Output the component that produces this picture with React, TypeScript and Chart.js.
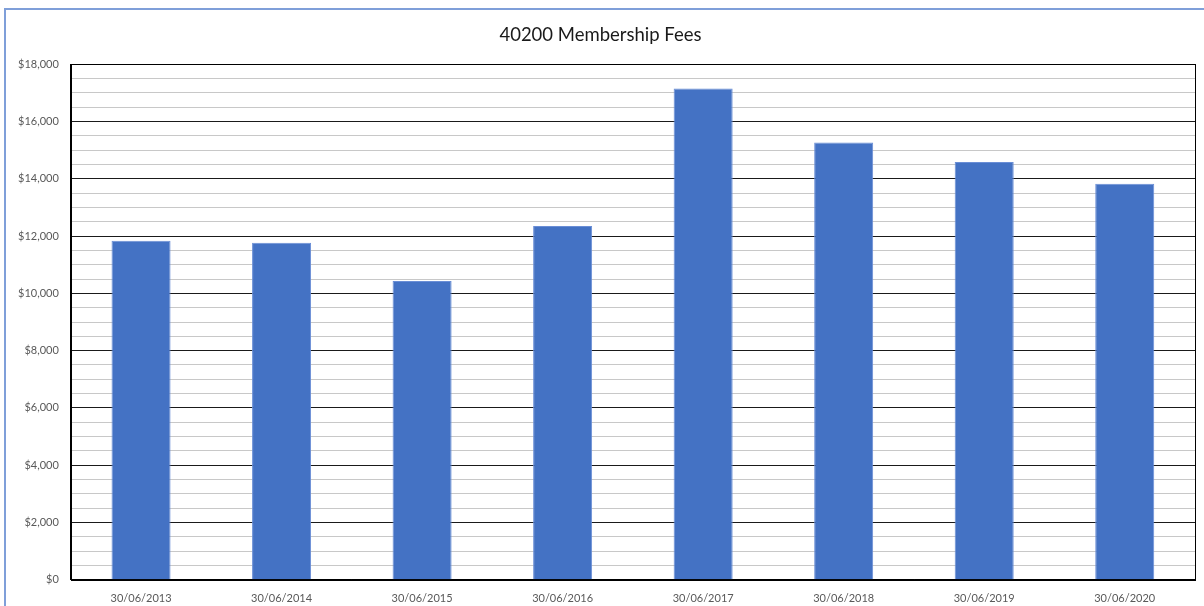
import React, { useEffect, useRef } from "react";
import { Chart, registerables } from "chart.js";

Chart.register(...registerables);

const categories = [
  "30/06/2013",
  "30/06/2014",
  "30/06/2015",
  "30/06/2016",
  "30/06/2017",
  "30/06/2018",
  "30/06/2019",
  "30/06/2020",
];
const fees = [11840, 11770, 10430, 12350, 17150, 15270, 14590, 13830];
const yMin = 0;
const yMax = 18000;
const minorStep = 500;
const majorStep = 2000;
const chartTitle = "40200 Membership Fees";

const FONT = "Lato, 'Open Sans', sans-serif";

const frame = {
  id: "plotFrame",
  afterDraw(chart: any) {
    const { ctx, chartArea } = chart;
    ctx.save();
    ctx.strokeStyle = "#000000";
    ctx.lineWidth = 1;
    ctx.strokeRect(
      Math.round(chartArea.left) + 0.5,
      Math.round(chartArea.top) + 0.5,
      Math.round(chartArea.right - chartArea.left),
      Math.round(chartArea.bottom - chartArea.top)
    );
    ctx.restore();
  },
};

export default function App() {
  const ref = useRef<HTMLCanvasElement | null>(null);
  useEffect(() => {
    if (!ref.current) return;
    const chart = new Chart(ref.current, {
      type: "bar",
      data: {
        labels: categories,
        datasets: [
          {
            data: fees,
            backgroundColor: "#4472C4",
            borderColor: "#6A8ED6",
            borderWidth: 1,
            barPercentage: 0.42,
            categoryPercentage: 1,
          },
        ],
      },
      plugins: [frame],
      options: {
        animation: false,
        responsive: false,
        maintainAspectRatio: false,
        layout: { padding: { left: 6, right: 9, top: 0, bottom: 3 } },
        plugins: {
          legend: { display: false },
          tooltip: { enabled: false },
          title: {
            display: true,
            text: chartTitle,
            color: "#1a1a1a",
            font: { family: FONT, size: 18.5, weight: "normal" },
            padding: { top: 24, bottom: 18 },
          },
        },
        scales: {
          x: {
            grid: { display: false, drawTicks: false },
            border: { display: true, color: "#000000", width: 1 },
            ticks: {
              color: "#595959",
              font: { family: FONT, size: 11 },
              padding: 12,
              maxRotation: 0,
              autoSkip: false,
            },
          },
          y: {
            min: yMin,
            max: yMax,
            grid: {
              drawTicks: false,
              color: (c: any) =>
                c.tick && c.tick.value % majorStep === 0 ? "#1a1a1a" : "#C8C8C8",
              lineWidth: 1,
            },
            border: { display: true, color: "#000000", width: 1 },
            ticks: {
              stepSize: minorStep,
              maxTicksLimit: 100,
              autoSkip: false,
              color: "#595959",
              font: { family: FONT, size: 11 },
              padding: 12,
              callback: (v: any) =>
                Number(v) % majorStep === 0 ? "$" + Number(v).toLocaleString("en-US") : "",
            },
          },
        },
      },
    });
    return () => chart.destroy();
  }, []);
  return (
    <div
      style={{
        position: "fixed",
        left: 0,
        top: 0,
        width: 1204,
        height: 606,
        overflow: "hidden",
        background: "#ffffff",
      }}
    >
      <div
        style={{
          position: "absolute",
          left: 4,
          top: 8,
          width: 1220,
          height: 620,
          border: "2px solid #7F9FD9",
          boxSizing: "border-box",
        }}
      />
      <canvas
        ref={ref}
        width={1204}
        height={620}
        style={{ position: "absolute", left: 0, top: 0, width: 1204, height: 620 }}
      />
    </div>
  );
}
